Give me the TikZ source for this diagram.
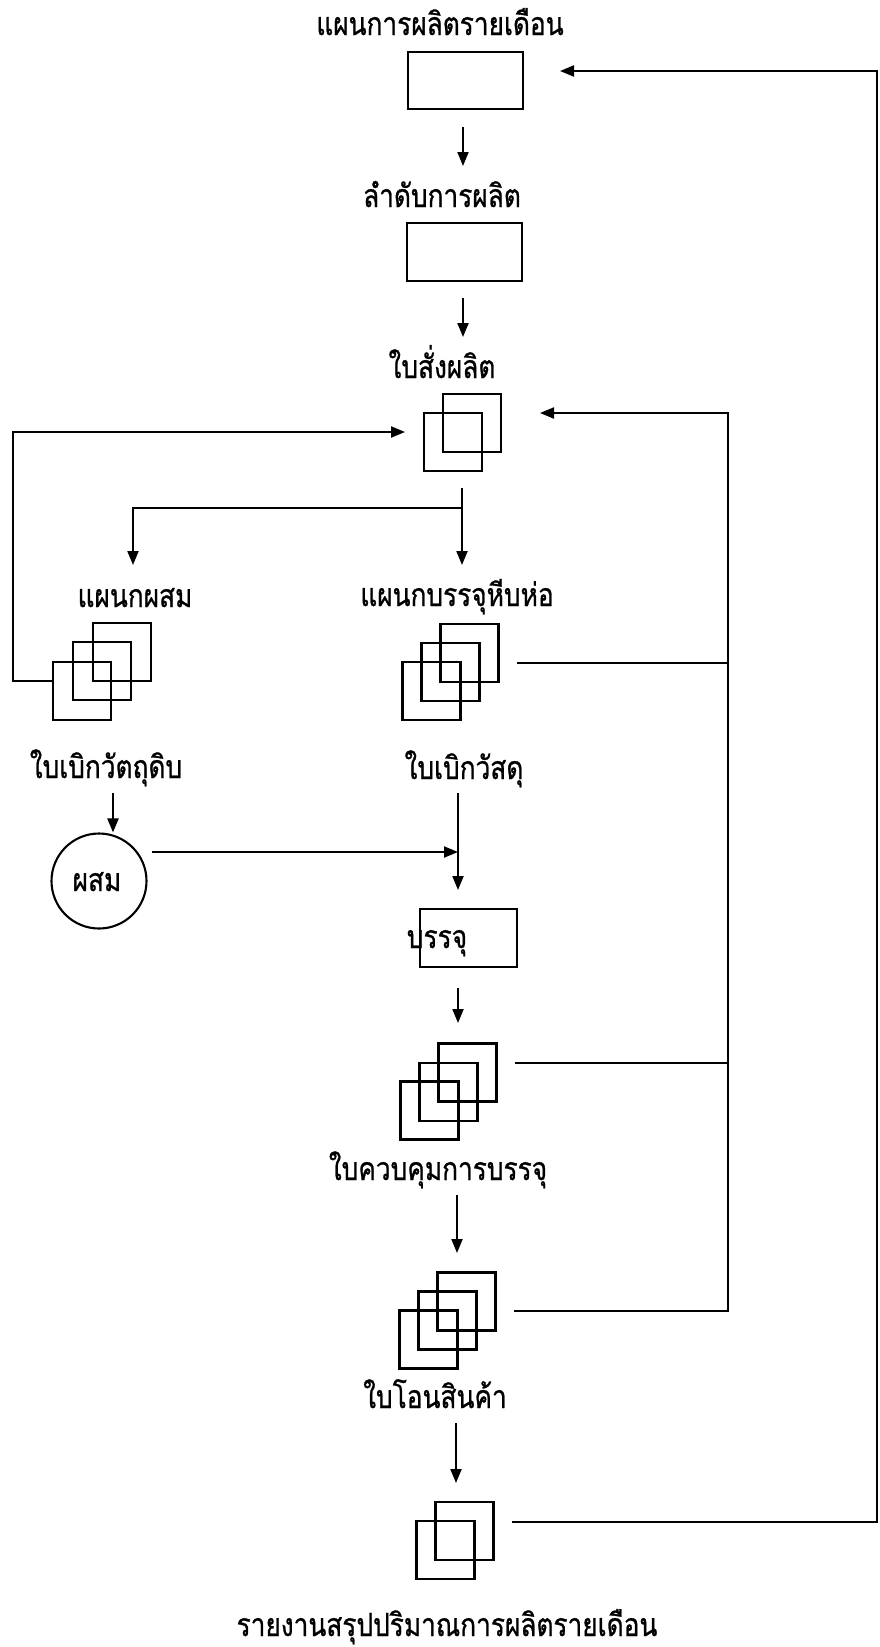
\documentclass[tikz,border=0pt]{standalone}
\usepackage{fontspec}
\newfontfamily\thaifont[Script=Thai,FakeStretch=0.82,FakeBold=0.8]{Loma}
\usetikzlibrary{arrows.meta}
\begin{document}
\begin{tikzpicture}[x=1pt,y=-1pt,line width=2.1pt,
  box/.style={draw,rectangle,inner sep=0pt,outer sep=0pt},
  sq/.style={box,minimum width=58pt,minimum height=58pt},
  lbl/.style={font=\thaifont\fontsize{32}{36}\selectfont,inner sep=0pt,anchor=base},
  arr/.style={-{Triangle[length=14pt,width=11pt]}}]
\useasboundingbox[fill=white] (0,0) rectangle (880,1647);

% top boxes
\node[lbl] (t1) at (440,35) {แผนการผลิตรายเดือน};
\node[box,minimum width=115pt,minimum height=57pt] (b1) at (465.5,80.5) {};
\node[lbl] (t2) at (442,207) {ลำดับการผลิต};
\node[box,minimum width=115pt,minimum height=58pt] (b2) at (464.5,252) {};
\node[lbl] (t3) at (442,378) {ใบสั่งผลิต};
\node[sq] (d1b) at (472,423) {};
\node[sq] (d1f) at (453,442) {};

\coordinate (a1s) at (463,127); \coordinate (a1e) at (463,166);
\coordinate (a2s) at (463,298); \coordinate (a2e) at (463,337);
\draw[arr] (a1s) -- (a1e);
\draw[arr] (a2s) -- (a2e);

% split
\coordinate (sp0) at (462,488);
\coordinate (sp1) at (462,508);
\coordinate (spr) at (462,565);
\coordinate (spl0) at (133,508);
\coordinate (spl) at (133,565);
\draw[arr] (sp0) -- (spr);
\draw[arr] (sp1) -- (spl0) -- (spl);

% department labels and icons
\node[lbl] (t4) at (135,607) {แผนกผสม};
\node[lbl] (t5) at (457,606) {แผนกบรรจุหีบห่อ};
\node[sq] (m1b) at (122,652) {};
\node[sq] (m1m) at (102,671) {};
\node[sq] (m1f) at (82,691) {};
\node[sq] (d2b) at (469.5,653) {};
\node[sq] (d2m) at (450.5,672) {};
\node[sq] (d2f) at (431.5,691) {};

% left feedback
\coordinate (lf1) at (13,681);
\coordinate (lf2) at (13,432);
\coordinate (lf3) at (405,432);
\draw[arr] (m1f.west |- lf1) -- (lf1) -- (lf2) -- (lf3);

\node[lbl] (t6) at (106,778) {ใบเบิกวัตถุดิบ};
\node[lbl] (t7) at (464,779) {ใบเบิกวัสดุ};

% mixing circle
\node[draw,circle,minimum size=95pt,inner sep=0pt] (c1) at (99,881) {};
\node[lbl] (t8) at (97,891) {ผสม};
\coordinate (a6s) at (113,793);
\draw[arr] (a6s) -- (c1.north -| a6s);
\coordinate (h1s) at (152,852);
\coordinate (h1e) at (458,852);
\draw[arr] (h1s) -- (h1e);
\coordinate (v1s) at (458,793);
\coordinate (v1e) at (458,890);
\draw[arr] (v1s) -- (v1e);

% packing box
\node[box,minimum width=97pt,minimum height=58pt] (b3) at (468.5,938) {};
\node[lbl] (t9) at (437,948) {บรรจุ};
\coordinate (a3s) at (458,988); \coordinate (a3e) at (458,1023);
\draw[arr] (a3s) -- (a3e);

\node[sq] (d3b) at (467.5,1072.5) {};
\node[sq] (d3m) at (448.5,1092) {};
\node[sq] (d3f) at (429.5,1110.5) {};
\node[lbl] (t10) at (438,1180) {ใบควบคุมการบรรจุ};
\coordinate (a4s) at (457,1195); \coordinate (a4e) at (457,1253);
\draw[arr] (a4s) -- (a4e);

\node[sq] (d4b) at (466.5,1301.5) {};
\node[sq] (d4m) at (447.5,1320.5) {};
\node[sq] (d4f) at (428.5,1339.5) {};
\node[lbl] (t11) at (435,1408) {ใบโอนสินค้า};
\coordinate (a5s) at (456,1423); \coordinate (a5e) at (456,1483);
\draw[arr] (a5s) -- (a5e);

\node[sq] (d5b) at (464.5,1531) {};
\node[sq] (d5f) at (445.5,1550) {};
\node[lbl] (t12) at (447,1636) {รายงานสรุปปริมาณการผลิตรายเดือน};

% right inner collector
\coordinate (r2o) at (517,663);
\coordinate (r3o) at (515,1063);
\coordinate (r4o) at (514,1311);
\coordinate (rv) at (728,1311);
\coordinate (rt) at (728,413);
\coordinate (rtip) at (540,413);
\draw[arr] (r4o) -- (rv) -- (rt) -- (rtip);
\draw (r2o) -- (r2o -| rv);
\draw (r3o) -- (r3o -| rv);

% outer feedback
\coordinate (o1) at (512,1522);
\coordinate (o2) at (877,1522);
\coordinate (o3) at (877,71);
\coordinate (o4) at (560,71);
\draw[arr] (o1) -- (o2) -- (o3) -- (o4);
\end{tikzpicture}
\end{document}
